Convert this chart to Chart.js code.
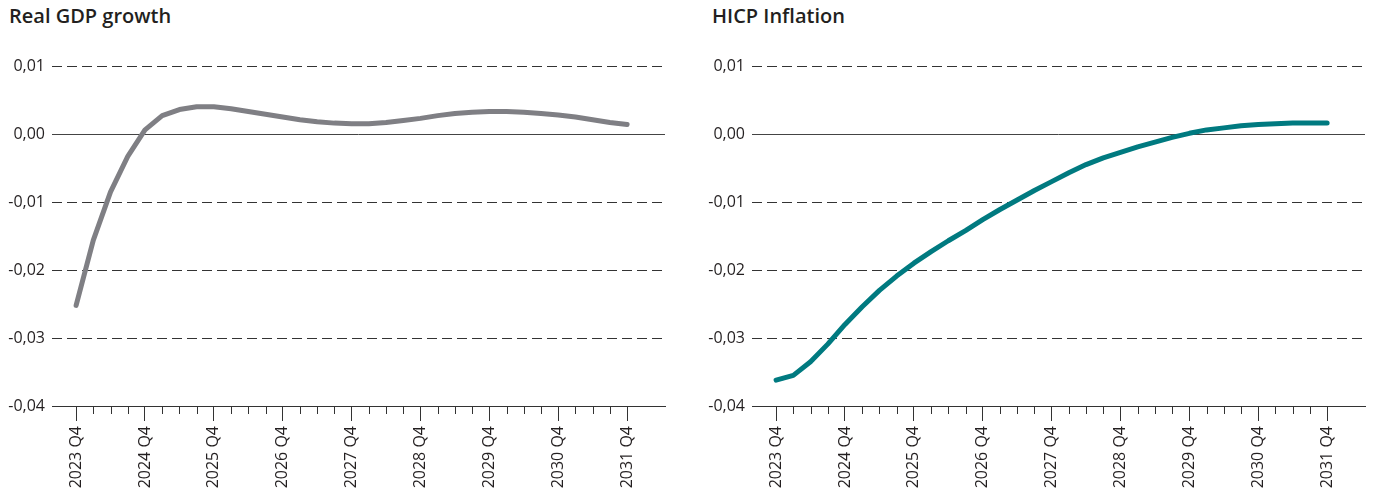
<!DOCTYPE html>
<html>
<head>
<meta charset="utf-8">
<script src="https://cdn.jsdelivr.net/npm/chart.js@4"></script>
<style>
  body { margin: 0; background: #fff; width: 1375px; height: 495px; position: relative; overflow: hidden; }
  .title { position: absolute; top: 2px; font: 600 20px "Open Sans", sans-serif; color: #231f20; }
  canvas { position: absolute; top: 0; }
</style>
</head>
<body>
<div class="title" style="left:9px">Real GDP growth</div>
<div class="title" style="left:712px">HICP Inflation</div>
<canvas id="gdp" width="675" height="495" style="left:0"></canvas>
<canvas id="hicp" width="675" height="495" style="left:700px"></canvas>
<script>
// quarters 2023 Q4 .. 2031 Q4
var quarters = [];
for (let y = 2023; y <= 2031; y++) {
  if (y == 2023) { quarters.push("2023 Q4"); continue; }
  for (let q = 1; q <= 4; q++) quarters.push(y + " Q" + q);
}

var gdpValues = [-0.0252, -0.0156, -0.0085, -0.0033, 0.0006, 0.0027, 0.0036, 0.0040, 0.0040,
  0.0037, 0.0033, 0.0029, 0.0025, 0.0021, 0.0018, 0.0016, 0.0015, 0.0015, 0.0017,
  0.0020, 0.0023, 0.0027, 0.0030, 0.0032, 0.0033, 0.0033, 0.0032, 0.0030, 0.0028,
  0.0025, 0.0021, 0.0017, 0.0014];

var hicpValues = [-0.0362, -0.0355, -0.0335, -0.0309, -0.0280, -0.0254, -0.0230, -0.0209, -0.0190,
  -0.0173, -0.0157, -0.0142, -0.0126, -0.0111, -0.0097, -0.0083, -0.0070, -0.0057, -0.0045,
  -0.0035, -0.0027, -0.0019, -0.0012, -0.0005, 0.0001, 0.0006, 0.0009, 0.0012, 0.0014,
  0.0015, 0.0016, 0.0016, 0.0016];

var yTicks = [-0.04, -0.03, -0.02, -0.01, 0.00, 0.01];

var axisColor = "#333333";
var tickFont = { family: "'Open Sans', sans-serif", size: 16 };

// short ticks for the quarters that have no label
var minorTicks = {
  id: "minorTicks",
  afterDraw(chart) {
    var x = chart.scales.x, ctx = chart.ctx, bottom = chart.chartArea.bottom;
    ctx.save();
    ctx.strokeStyle = axisColor;
    ctx.lineWidth = 1;
    quarters.forEach(function (q, i) {
      if (i % 4 == 0) return;
      var px = Math.round(x.getPixelForValue(i)) + 0.5;
      ctx.beginPath();
      ctx.moveTo(px, bottom);
      ctx.lineTo(px, bottom + 8);
      ctx.stroke();
    });
    ctx.restore();
  }
};

function makeChart(id, values, color) {
  return new Chart(document.getElementById(id), {
    type: "line",
    data: {
      datasets: [{
        data: values.map(function (v, i) { return { x: i, y: v }; }),
        borderColor: color,
        borderWidth: 5,
        pointRadius: 0,
        tension: 0,
        borderCapStyle: "round",
        borderJoinStyle: "round"
      }]
    },
    options: {
      responsive: false,
      animation: false,
      devicePixelRatio: 1,
      layout: { padding: { top: 66, right: 10, left: 0, bottom: 0 } },
      plugins: { legend: { display: false }, tooltip: { enabled: false } },
      scales: {
        x: {
          type: "linear",
          min: -1.4,
          max: 34.2,
          afterBuildTicks: function (s) { s.ticks = quarters.map(function (q, i) { return { value: i }; }); },
          afterFit: function (s) { s.height = 89; },
          grid: {
            drawOnChartArea: false,
            tickLength: 15,
            tickColor: function (c) { return c.tick && c.tick.value % 4 == 0 ? axisColor : "rgba(0,0,0,0)"; }
          },
          border: { display: true, color: axisColor, width: 1 },
          ticks: {
            autoSkip: false,
            maxRotation: 90,
            minRotation: 90,
            padding: 5,
            color: "#231f20",
            font: tickFont,
            callback: function (v) { return v % 4 == 0 ? quarters[v] : ""; }
          }
        },
        y: {
          min: -0.04,
          max: 0.01,
          afterBuildTicks: function (s) { s.ticks = yTicks.map(function (v) { return { value: v }; }); },
          afterFit: function (s) { s.width = 52; },
          grid: {
            drawTicks: false,
            color: function (c) { return c.tick && Math.abs(c.tick.value) < 1e-9 ? "#444444" : axisColor; },
            lineWidth: 1
          },
          border: {
            display: false,
            dash: function (c) { return c.tick && Math.abs(c.tick.value) < 1e-9 ? [] : [10, 5]; }
          },
          ticks: {
            padding: 7,
            color: "#231f20",
            font: tickFont,
            callback: function (v) {
              var r = Math.round(v * 100) / 100;
              if (r == 0) return "0,00";
              return r.toFixed(2).replace(".", ",");
            }
          }
        }
      }
    },
    plugins: [minorTicks]
  });
}

makeChart("gdp", gdpValues, "#7f7f84");
makeChart("hicp", hicpValues, "#007a80");
</script>
</body>
</html>
